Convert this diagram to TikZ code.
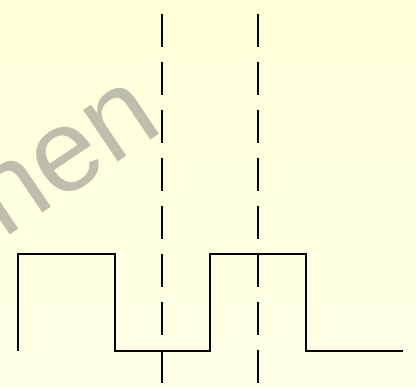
\documentclass[tikz,border=0pt]{standalone}
\usepackage{fontspec}
\setsansfont{Liberation Sans}
\usetikzlibrary{positioning}
\definecolor{paperyellow}{RGB}{255,255,216}
\definecolor{paperlight}{RGB}{255,255,232}
\definecolor{markgrey}{RGB}{189,190,172}
\tikzset{
  wave/.style={line width=1.6bp, draw=black, line join=miter},
  cursor/.style={line width=1.6bp, draw=black, dash pattern=on 33bp off 15bp},
  stamp/.style={font=\sffamily\fontsize{118}{118}\selectfont, text=markgrey, inner sep=0pt, rotate=34},
}
\begin{document}
\begin{tikzpicture}[x=1bp,y=-1bp]
  % background
  \useasboundingbox (0,0) rectangle (416,387);
  \clip (0,0) rectangle (416,387);
  \shade[top color=paperyellow,bottom color=paperlight] (0,0) rectangle (416,387);
  % watermark
  \node[stamp,anchor=base east] (stamp) at (166,130) {nen};
  % cursors
  \coordinate (cur1top) at (162,14);
  \coordinate (cur1bot) at (162,383);
  \coordinate (cur2top) at (258,14);
  \coordinate (cur2bot) at (258,383);
  \draw[cursor] (cur1top) -- (cur1bot);
  \draw[cursor] (cur2top) -- (cur2bot);
  % signal
  \coordinate (s0) at (18,351);
  \draw[wave] (s0) -- (18,254) -- (115,254) -- (115,351) -- (210,351) -- (210,254)
    -- (306,254) -- (306,351) -- (403,351);
\end{tikzpicture}
\end{document}
